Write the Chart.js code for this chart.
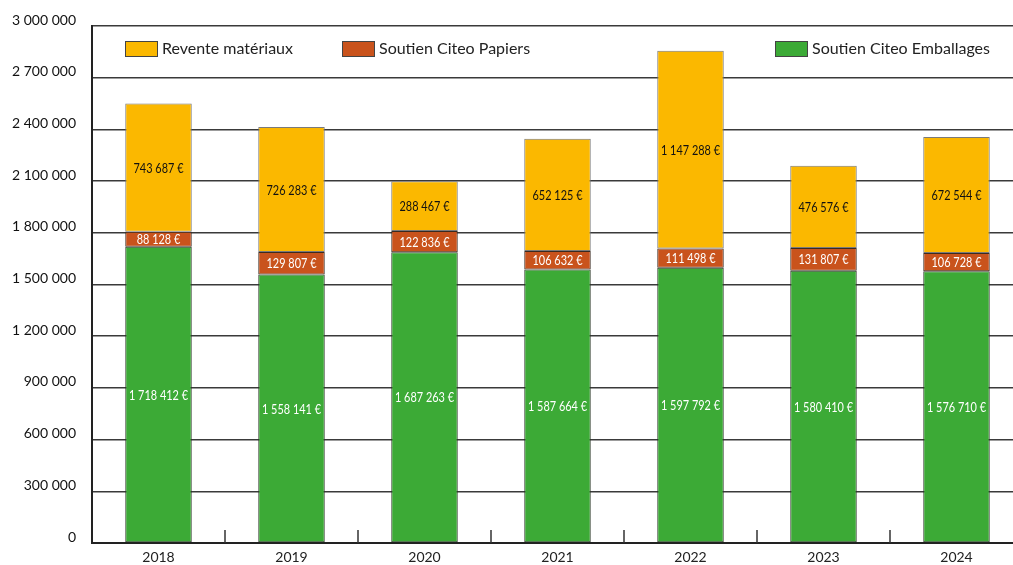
<!DOCTYPE html>
<html>
<head>
<meta charset="utf-8">
<script src="https://cdn.jsdelivr.net/npm/chart.js@4/dist/chart.umd.min.js"></script>
<style>
  html, body { margin: 0; padding: 0; background: #fff; overflow: hidden; }
  #wrap { position: absolute; left: 0; top: 0; width: 1023px; height: 565px; }
</style>
</head>
<body>
<div id="wrap"><canvas id="chart" width="1023" height="565"></canvas></div>
<script>
const years = ['2018', '2019', '2020', '2021', '2022', '2023', '2024'];
const emballages = [1718412, 1558141, 1687263, 1587664, 1597792, 1580410, 1576710];
const papiers = [88128, 129807, 122836, 106632, 111498, 131807, 106728];
const revente = [743687, 726283, 288467, 652125, 1147288, 476576, 672544];
const yTicks = [0, 300000, 600000, 900000, 1200000, 1500000, 1800000, 2100000, 2400000, 2700000, 3000000];

const fmt = (v) => String(v).replace(/\B(?=(\d{3})+(?!\d))/g, ' ');

// bars stacked bottom-up: green, orange, yellow
const datasets = [
    { label: 'Soutien Citeo Emballages', data: emballages, backgroundColor: '#3caa36', borderColor: '#2e3a2a', labelColor: '#ffffff' },
    { label: 'Soutien Citeo Papiers', data: papiers, backgroundColor: '#c9531c', borderColor: '#3a2a20', labelColor: '#ffffff' },
    { label: 'Revente matériaux', data: revente, backgroundColor: '#fbb800', borderColor: '#7a7a7a', labelColor: '#111111' },
];

// legend as in the original, placed inside the plot
const legendItems = [
    { ds: 2, x: 125 },
    { ds: 1, x: 342 },
    { ds: 0, x: 775 },
];

const insideTicks = {
    id: 'insideTicks',
    beforeDatasetsDraw(chart) {
        const { ctx, chartArea, scales } = chart;
        const x = scales.x;
        ctx.save();
        ctx.strokeStyle = '#333';
        ctx.lineWidth = 1.5;
        for (let i = 0; i < years.length; i++) {
            const px = (x.getPixelForValue(i) + x.getPixelForValue(i + 1)) / 2;
            ctx.beginPath();
            ctx.moveTo(px, chartArea.bottom);
            ctx.lineTo(px, chartArea.bottom - 13);
            ctx.stroke();
        }
        ctx.restore();
    },
};

const barLabels = {
    id: 'barLabels',
    afterDatasetsDraw(chart) {
        const { ctx } = chart;
        ctx.save();
        ctx.textAlign = 'center';
        ctx.textBaseline = 'middle';
        ctx.font = '13px Lato, "Open Sans", sans-serif';
        chart.data.datasets.forEach((ds, di) => {
            const meta = chart.getDatasetMeta(di);
            meta.data.forEach((bar, i) => {
                const cy = (bar.y + bar.base) / 2;
                ctx.save();
                ctx.translate(bar.x, cy);
                ctx.scale(0.84, 1);
                ctx.fillStyle = ds.labelColor;
                ctx.fillText(fmt(ds.data[i]) + ' €', 0, 1);
                ctx.restore();
            });
        });
        ctx.restore();
    },
};

const customLegend = {
    id: 'customLegend',
    afterDraw(chart) {
        const { ctx } = chart;
        ctx.save();
        ctx.font = '16px Lato, "Open Sans", sans-serif';
        ctx.textBaseline = 'middle';
        ctx.textAlign = 'left';
        legendItems.forEach((it) => {
            const ds = chart.data.datasets[it.ds];
            ctx.fillStyle = ds.backgroundColor;
            ctx.fillRect(it.x, 41, 32, 15);
            ctx.strokeStyle = '#444';
            ctx.lineWidth = 1;
            ctx.strokeRect(it.x + 0.5, 41.5, 32, 15);
            ctx.fillStyle = '#222';
            ctx.fillText(ds.label, it.x + 37, 49);
        });
        ctx.restore();
    },
};

new Chart(document.getElementById('chart').getContext('2d'), {
    type: 'bar',
    data: {
        labels: years,
        datasets: datasets.map((d) => ({
            label: d.label,
            data: d.data,
            backgroundColor: d.backgroundColor,
            borderColor: d.borderColor,
            borderWidth: 1,
            borderSkipped: false,
            labelColor: d.labelColor,
            categoryPercentage: 1,
            barPercentage: 0.5,
        })),
    },
    options: {
        responsive: false,
        animation: false,
        devicePixelRatio: 1,
        layout: { padding: { top: 26, right: 0, bottom: 0, left: 0 } },
        plugins: {
            legend: { display: false },
            tooltip: { enabled: false },
        },
        scales: {
            x: {
                stacked: true,
                afterFit: (axis) => { axis.height = 22; },
                grid: { display: false, drawTicks: false },
                border: { display: true, color: '#222', width: 2 },
                ticks: {
                    color: '#222',
                    padding: 6,
                    font: { family: 'Lato, "Open Sans", sans-serif', size: 14 },
                },
            },
            y: {
                stacked: true,
                min: 0,
                max: 3000000,
                afterFit: (axis) => {
                    axis.width = 92;
                    axis.paddingTop = 0;
                    axis.paddingBottom = 0;
                },
                afterBuildTicks: (axis) => { axis.ticks = yTicks.map((v) => ({ value: v })); },
                grid: { color: '#3a3a3a', lineWidth: 1.5, drawTicks: false },
                border: { display: true, color: '#222', width: 2 },
                ticks: {
                    color: '#111',
                    padding: 16,
                    labelOffset: -6,
                    font: { family: 'Lato, "Open Sans", sans-serif', size: 14 },
                    callback: (v) => fmt(v),
                },
            },
        },
    },
    plugins: [insideTicks, barLabels, customLegend],
});
</script>
</body>
</html>
